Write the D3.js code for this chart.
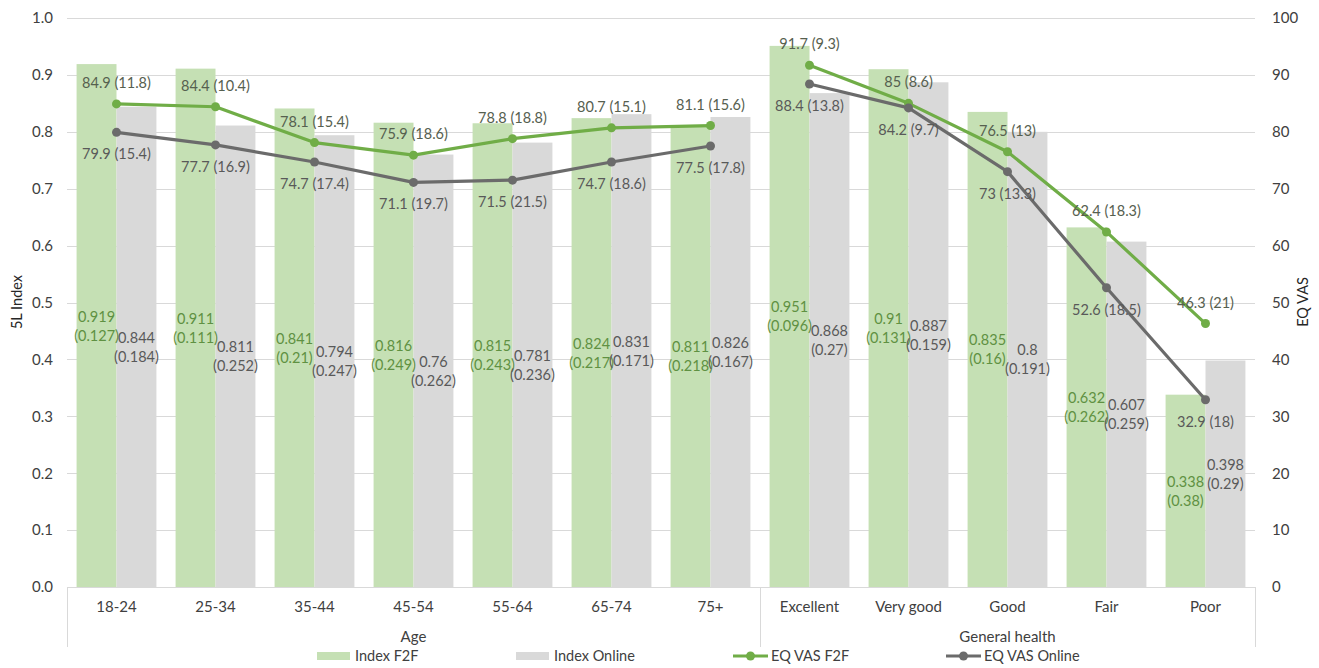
<!DOCTYPE html>
<html>
<head>
<meta charset="utf-8">
<script src="https://cdn.jsdelivr.net/npm/d3@7"></script>
<style>
  body { margin: 0; background: #fff; }
  svg { font-family: Lato, "Open Sans", sans-serif; }
</style>
</head>
<body>
<div id="chart"></div>
<script>
// Data
const categories = ['18-24', '25-34', '35-44', '45-54', '55-64', '65-74', '75+',
  'Excellent', 'Very good', 'Good', 'Fair', 'Poor'];
const groups = [
  { name: 'Age', cats: ['18-24', '25-34', '35-44', '45-54', '55-64', '65-74', '75+'] },
  { name: 'General health', cats: ['Excellent', 'Very good', 'Good', 'Fair', 'Poor'] }
];
const indexF2F = [0.919, 0.911, 0.841, 0.816, 0.815, 0.824, 0.811, 0.951, 0.91, 0.835, 0.632, 0.338];
const indexF2FSd = ['0.127', '0.111', '0.21', '0.249', '0.243', '0.217', '0.218', '0.096', '0.131', '0.16', '0.262', '0.38'];
const indexOnline = [0.844, 0.811, 0.794, 0.76, 0.781, 0.831, 0.826, 0.868, 0.887, 0.8, 0.607, 0.398];
const indexOnlineSd = ['0.184', '0.252', '0.247', '0.262', '0.236', '0.171', '0.167', '0.27', '0.159', '0.191', '0.259', '0.29'];
const vasF2F = [84.9, 84.4, 78.1, 75.9, 78.8, 80.7, 81.1, 91.7, 85, 76.5, 62.4, 46.3];
const vasF2FSd = ['11.8', '10.4', '15.4', '18.6', '18.8', '15.1', '15.6', '9.3', '8.6', '13', '18.3', '21'];
const vasOnline = [79.9, 77.7, 74.7, 71.1, 71.5, 74.7, 77.5, 88.4, 84.2, 73, 52.6, 32.9];
const vasOnlineSd = ['15.4', '16.9', '17.4', '19.7', '21.5', '18.6', '17.8', '13.8', '9.7', '13.3', '18.5', '18'];
const leftTicks = [0, 0.1, 0.2, 0.3, 0.4, 0.5, 0.6, 0.7, 0.8, 0.9, 1.0];
const rightTicks = [0, 10, 20, 30, 40, 50, 60, 70, 80, 90, 100];

let
  w = 1319, h = 668,
  padL = 67, padR = 1255, plotTop = 18, plotBottom = 587,
  f2fBar = '#c5e0b4', onlineBar = '#d9d9d9',
  f2fLine = '#70ad47', onlineLine = '#6b6b6b',
  gridColor = '#d9d9d9', textColor = '#595959', axisText = '#404040';

const x = d3.scaleBand().domain(categories).range([padL, padR]);
const x1 = d3.scaleBand().domain(['f2f', 'online']).range([0, x.bandwidth()]).paddingOuter(0.24);
const yL = d3.scaleLinear().domain([0, 1]).range([plotBottom, plotTop]);
const yR = d3.scaleLinear().domain([0, 100]).range([plotBottom, plotTop]);

const svg = d3.select('#chart').append('svg').attr('width', w).attr('height', h);

// gridlines
svg.append('g').selectAll('line').data(leftTicks.slice(1)).join('line')
  .attr('x1', padL).attr('x2', padR)
  .attr('y1', d => Math.round(yL(d)) + 0.5).attr('y2', d => Math.round(yL(d)) + 0.5)
  .attr('stroke', gridColor).attr('stroke-width', 1);

// bars
const rows = categories.map((c, i) => ({ c, i }));
const barG = svg.append('g');
barG.selectAll('rect.f2f').data(rows).join('rect')
  .attr('class', 'f2f')
  .attr('x', d => x(d.c) + x1('f2f')).attr('width', x1.bandwidth())
  .attr('y', d => yL(indexF2F[d.i])).attr('height', d => yL(0) - yL(indexF2F[d.i]))
  .attr('fill', f2fBar);
barG.selectAll('rect.online').data(rows).join('rect')
  .attr('class', 'online')
  .attr('x', d => x(d.c) + x1('online')).attr('width', x1.bandwidth())
  .attr('y', d => yL(indexOnline[d.i])).attr('height', d => yL(0) - yL(indexOnline[d.i]))
  .attr('fill', onlineBar);

// axes
const axL = svg.append('g').attr('transform', `translate(${padL},0)`)
  .call(d3.axisLeft(yL).tickValues(leftTicks).tickFormat(d3.format('.1f')).tickSize(0).tickPadding(14));
const axR = svg.append('g').attr('transform', `translate(${padR},0)`)
  .call(d3.axisRight(yR).tickValues(rightTicks).tickSize(0).tickPadding(17));
[axL, axR].forEach(a => {
  a.select('.domain').remove();
  a.selectAll('text').attr('font-size', 15).attr('fill', axisText).attr('font-family', 'Lato, sans-serif');
});

// x axis line and dividers
svg.append('line').attr('x1', padL).attr('x2', padR)
  .attr('y1', plotBottom + 0.5).attr('y2', plotBottom + 0.5).attr('stroke', gridColor);
const divX = [padL, x(groups[1].cats[0]), padR];
svg.append('g').selectAll('line').data(divX).join('line')
  .attr('x1', d => Math.round(d) + 0.5).attr('x2', d => Math.round(d) + 0.5)
  .attr('y1', plotBottom).attr('y2', 647).attr('stroke', gridColor);

// category labels
svg.append('g').selectAll('text').data(categories).join('text')
  .attr('x', d => x(d) + x.bandwidth() / 2).attr('y', 612)
  .attr('text-anchor', 'middle').attr('font-size', 15).attr('fill', axisText)
  .text(d => d);

// group labels
svg.append('g').selectAll('text').data(groups).join('text')
  .attr('x', d => (x(d.cats[0]) + x(d.cats[d.cats.length - 1]) + x.bandwidth()) / 2)
  .attr('y', 642).attr('text-anchor', 'middle').attr('font-size', 15).attr('fill', axisText)
  .text(d => d.name);

// axis titles
svg.append('text').attr('transform', 'translate(22,302) rotate(-90)')
  .attr('text-anchor', 'middle').attr('font-size', 14.5).attr('fill', '#262626').text('5L Index');
svg.append('text').attr('transform', 'translate(1308,302) rotate(-90)')
  .attr('text-anchor', 'middle').attr('font-size', 14.5).attr('fill', '#262626').text('EQ VAS');

// lines, one segment per group
const line = d3.line().x(d => x(d.c) + x.bandwidth() / 2).y(d => yR(d.v));
function drawSeries(vals, color) {
  const g = svg.append('g');
  groups.forEach(gr => {
    const pts = gr.cats.map(c => ({ c, v: vals[categories.indexOf(c)] }));
    g.append('path').datum(pts).attr('d', line)
      .attr('fill', 'none').attr('stroke', color).attr('stroke-width', 3.2).attr('stroke-linejoin', 'round');
    g.selectAll(null).data(pts).join('circle')
      .attr('cx', d => x(d.c) + x.bandwidth() / 2).attr('cy', d => yR(d.v))
      .attr('r', 4.5).attr('fill', color);
  });
}
drawSeries(vasF2F, f2fLine);
drawSeries(vasOnline, onlineLine);

// bar labels (centered in bar, two lines)
function barLabels(vals, sds, key, color) {
  const g = svg.append('g').attr('font-size', 14.5).attr('fill', color).attr('text-anchor', 'middle');
  const t = g.selectAll('text').data(rows).join('text')
    .attr('x', d => x(d.c) + x1(key) + x1.bandwidth() / 2)
    .attr('y', d => (yL(vals[d.i]) + yL(0)) / 2);
  t.append('tspan').attr('x', d => x(d.c) + x1(key) + x1.bandwidth() / 2).attr('dy', -4).text(d => vals[d.i]);
  t.append('tspan').attr('x', d => x(d.c) + x1(key) + x1.bandwidth() / 2).attr('dy', 19).text(d => '(' + sds[d.i] + ')');
}
barLabels(indexF2F, indexF2FSd, 'f2f', '#5f9142');
barLabels(indexOnline, indexOnlineSd, 'online', textColor);

// line labels: F2F above, Online below
svg.append('g').attr('font-size', 14.5).attr('fill', '#56604f').attr('text-anchor', 'middle')
  .selectAll('text').data(rows).join('text')
  .attr('x', d => x(d.c) + x.bandwidth() / 2).attr('y', d => yR(vasF2F[d.i]) - 16)
  .text(d => vasF2F[d.i] + ' (' + vasF2FSd[d.i] + ')');
svg.append('g').attr('font-size', 14.5).attr('fill', textColor).attr('text-anchor', 'middle')
  .selectAll('text').data(rows).join('text')
  .attr('x', d => x(d.c) + x.bandwidth() / 2).attr('y', d => yR(vasOnline[d.i]) + 27)
  .text(d => vasOnline[d.i] + ' (' + vasOnlineSd[d.i] + ')');

// legend
const legend = svg.append('g').attr('font-size', 14.5).attr('fill', '#404040');
const legItems = [
  { name: 'Index F2F', type: 'bar', color: f2fBar, x: 317 },
  { name: 'Index Online', type: 'bar', color: onlineBar, x: 516 },
  { name: 'EQ VAS F2F', type: 'line', color: f2fLine, x: 733 },
  { name: 'EQ VAS Online', type: 'line', color: onlineLine, x: 946 }
];
legItems.forEach(it => {
  if (it.type === 'bar') {
    legend.append('rect').attr('x', it.x).attr('y', 652).attr('width', 33).attr('height', 8).attr('fill', it.color);
  } else {
    legend.append('line').attr('x1', it.x).attr('x2', it.x + 35).attr('y1', 656).attr('y2', 656)
      .attr('stroke', it.color).attr('stroke-width', 3.2);
    legend.append('circle').attr('cx', it.x + 17.5).attr('cy', 656).attr('r', 4.5).attr('fill', it.color);
  }
  legend.append('text').attr('x', it.x + 38).attr('y', 661).text(it.name);
});
</script>
</body>
</html>
